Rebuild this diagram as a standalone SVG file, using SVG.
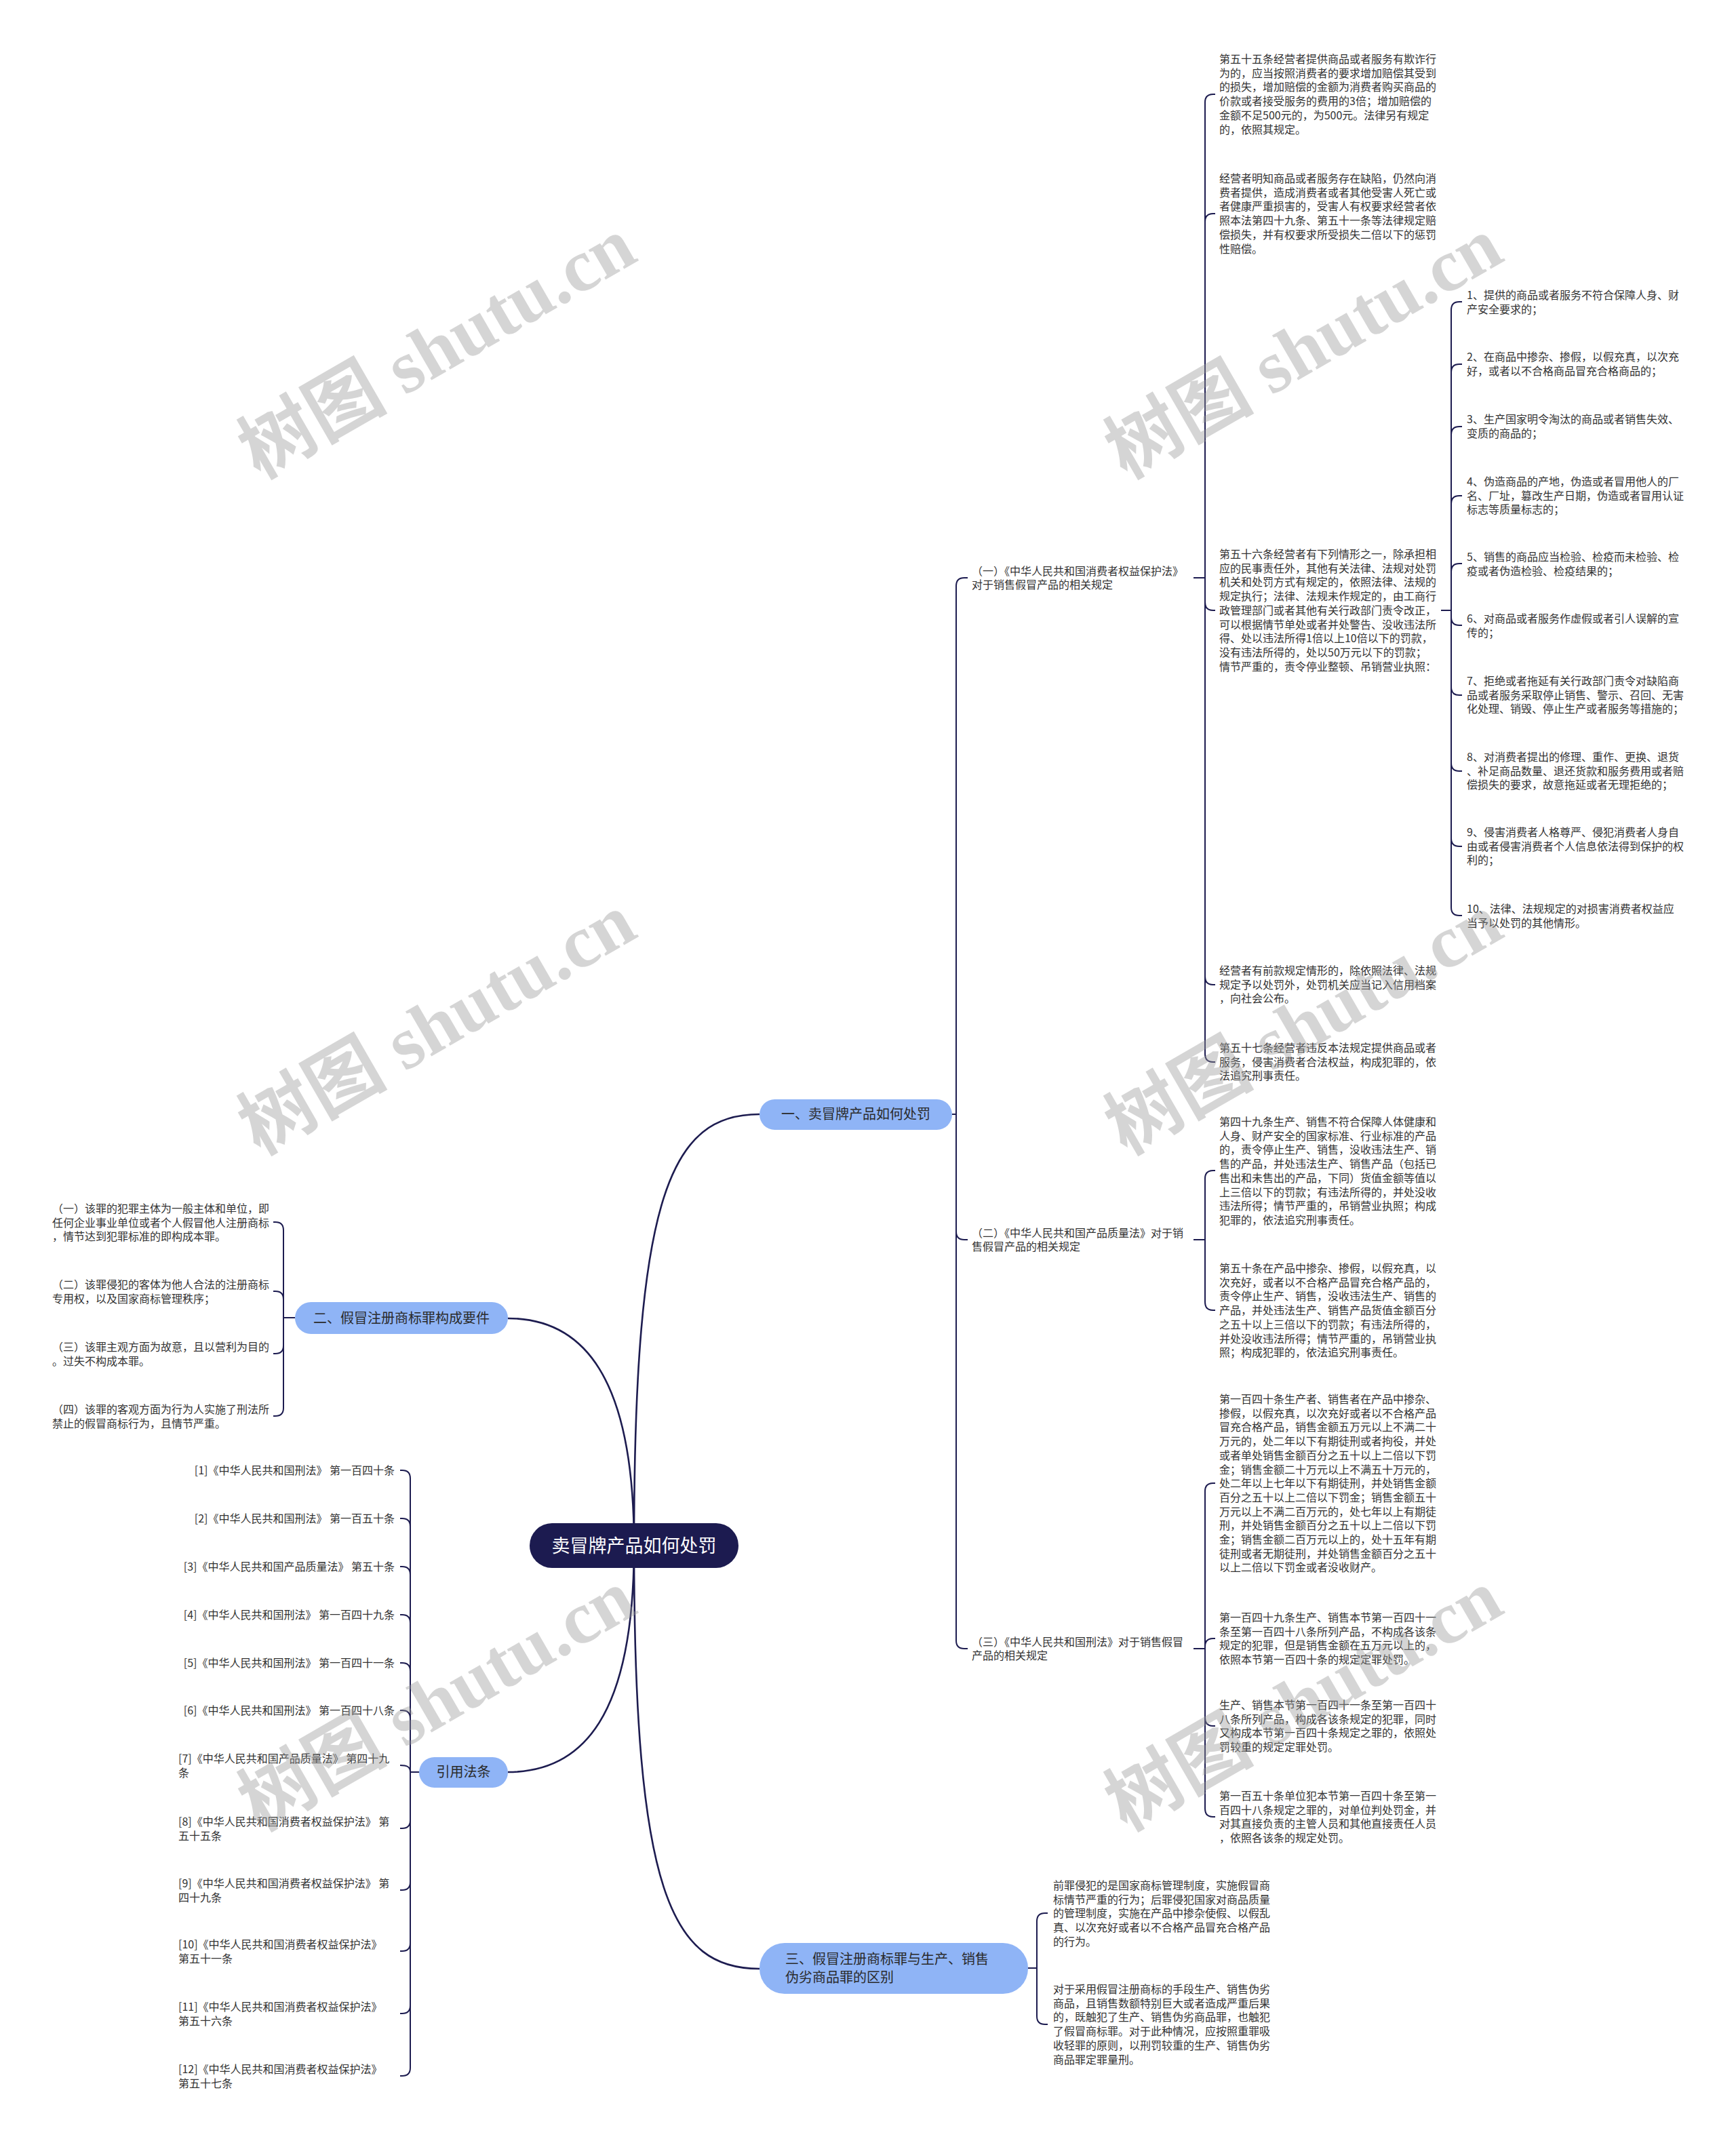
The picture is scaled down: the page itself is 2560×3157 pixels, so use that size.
<svg xmlns="http://www.w3.org/2000/svg" width="2560" height="3157" viewBox="0 0 2560 3157">
<style>
.t{font-family:"Noto Sans CJK SC","Liberation Sans",sans-serif;font-size:16px;fill:#333}
.bt{font-family:"Noto Sans CJK SC","Liberation Sans",sans-serif;font-size:20px;fill:#2a2a2a}
.rt{font-family:"Noto Sans CJK SC","Liberation Sans",sans-serif;font-size:27px;fill:#fff}
.br{fill:#8fb4f6}
.c{fill:none;stroke:#1d1c50;stroke-width:2}
.m{stroke-width:2.6}
.wm{font-family:"Liberation Serif","Noto Sans CJK SC",serif;font-size:110px;font-weight:bold;fill:#999;opacity:0.4}
</style>
<rect width="2560" height="3157" fill="#fff"/>
<g id="connectors">
<path class="c m" d="M935,2279 C935,1760 990,1643 1120,1643"/>
<path class="c m" d="M935,2279 C935,2790 990,2903 1120,2903"/>
<path class="c m" d="M749,1944 C860,1944 935,2030 935,2279"/>
<path class="c m" d="M749,2613 C860,2613 935,2530 935,2279"/>
<path class="c" d="M1404,1643 H1410"/>
<path class="c" d="M1410,1643 V864 Q1410,852 1422,852 H1427"/>
<path class="c" d="M1410,1643 V1816 Q1410,1828 1422,1828 H1427"/>
<path class="c" d="M1410,1643 V2419 Q1410,2431 1422,2431 H1427"/>
<path class="c" d="M1760,852 H1777"/>
<path class="c" d="M1777,852 V151 Q1777,139 1789,139 H1792"/>
<path class="c" d="M1777,852 V327 Q1777,315 1789,315 H1792"/>
<path class="c" d="M1777,852 V888 Q1777,900 1789,900 H1792"/>
<path class="c" d="M1777,852 V1440 Q1777,1452 1789,1452 H1792"/>
<path class="c" d="M1777,852 V1554 Q1777,1566 1789,1566 H1792"/>
<path class="c" d="M2125,900 H2140"/>
<path class="c" d="M2140,900 V457 Q2140,445 2152,445 H2156"/>
<path class="c" d="M2140,900 V549 Q2140,537 2152,537 H2156"/>
<path class="c" d="M2140,900 V641 Q2140,629 2152,629 H2156"/>
<path class="c" d="M2140,900 V743 Q2140,731 2152,731 H2156"/>
<path class="c" d="M2140,900 V843 Q2140,831 2152,831 H2156"/>
<path class="c" d="M2140,900 V910 Q2140,922 2152,922 H2156"/>
<path class="c" d="M2140,900 V1013 Q2140,1025 2152,1025 H2156"/>
<path class="c" d="M2140,900 V1125 Q2140,1137 2152,1137 H2156"/>
<path class="c" d="M2140,900 V1236 Q2140,1248 2152,1248 H2156"/>
<path class="c" d="M2140,900 V1338 Q2140,1350 2152,1350 H2156"/>
<path class="c" d="M1760,1828 H1777"/>
<path class="c" d="M1777,1828 V1738 Q1777,1726 1789,1726 H1792"/>
<path class="c" d="M1777,1828 V1920 Q1777,1932 1789,1932 H1792"/>
<path class="c" d="M1760,2431 H1777"/>
<path class="c" d="M1777,2431 V2199 Q1777,2187 1789,2187 H1792"/>
<path class="c" d="M1777,2431 V2428 Q1777,2416 1789,2416 H1792"/>
<path class="c" d="M1777,2431 V2533 Q1777,2545 1789,2545 H1792"/>
<path class="c" d="M1777,2431 V2667 Q1777,2679 1789,2679 H1792"/>
<path class="c" d="M435,1943 H418"/>
<path class="c" d="M418,1943 V1814 Q418,1802 406,1802 H403"/>
<path class="c" d="M418,1943 V1916 Q418,1904 406,1904 H403"/>
<path class="c" d="M418,1943 V1984 Q418,1996 406,1996 H403"/>
<path class="c" d="M418,1943 V2076 Q418,2088 406,2088 H403"/>
<path class="c" d="M618,2613 H605"/>
<path class="c" d="M605,2613 V2180 Q605,2168 593,2168 H590"/>
<path class="c" d="M605,2613 V2251 Q605,2239 593,2239 H590"/>
<path class="c" d="M605,2613 V2322 Q605,2310 593,2310 H590"/>
<path class="c" d="M605,2613 V2393 Q605,2381 593,2381 H590"/>
<path class="c" d="M605,2613 V2464 Q605,2452 593,2452 H590"/>
<path class="c" d="M605,2613 V2534 Q605,2522 593,2522 H590"/>
<path class="c" d="M605,2613 C605,2605 600,2603 590,2603"/>
<path class="c" d="M605,2613 V2684 Q605,2696 593,2696 H590"/>
<path class="c" d="M605,2613 V2775 Q605,2787 593,2787 H590"/>
<path class="c" d="M605,2613 V2865 Q605,2877 593,2877 H590"/>
<path class="c" d="M605,2613 V2957 Q605,2969 593,2969 H590"/>
<path class="c" d="M605,2613 V3049 Q605,3061 593,3061 H590"/>
<path class="c" d="M1516,2902 H1529"/>
<path class="c" d="M1529,2902 V2833 Q1529,2821 1541,2821 H1545"/>
<path class="c" d="M1529,2902 V2973 Q1529,2985 1541,2985 H1545"/>
</g>
<g id="root"><rect x="781" y="2246" width="308" height="66" rx="33" fill="#1c1b50"/><text class="rt" x="935" y="2289" text-anchor="middle">卖冒牌产品如何处罚</text></g>
<g id="b1"><rect class="br" x="1120" y="1621" width="284" height="45" rx="22.5"/><text class="bt" x="1262" y="1650" text-anchor="middle">一、卖冒牌产品如何处罚</text></g>
<g id="b2"><rect class="br" x="435" y="1920" width="314" height="47" rx="23.5"/><text class="bt" x="592" y="1951" text-anchor="middle">二、假冒注册商标罪构成要件</text></g>
<g id="b4"><rect class="br" x="618" y="2591" width="131" height="45" rx="22.5"/><text class="bt" x="683.5" y="2620" text-anchor="middle">引用法条</text></g>
<g id="b3"><rect class="br" x="1120" y="2865" width="396" height="75" rx="37"/><text class="bt" x="1158" y="2896">三、假冒注册商标罪与生产、销售<tspan x="1158" dy="27">伪劣商品罪的区别</tspan></text></g>
<g id="n1a"><text class="t" x="1433" y="848">（一）《中华人民共和国消费者权益保护法》<tspan x="1433" dy="20">对于销售假冒产品的相关规定</tspan></text></g>
<g id="n1b"><text class="t" x="1433" y="1824">（二）《中华人民共和国产品质量法》对于销<tspan x="1433" dy="20">售假冒产品的相关规定</tspan></text></g>
<g id="n1c"><text class="t" x="1433" y="2427">（三）《中华人民共和国刑法》对于销售假冒<tspan x="1433" dy="20">产品的相关规定</tspan></text></g>
<g id="a55"><text class="t" x="1798" y="93">第五十五条经营者提供商品或者服务有欺诈行<tspan x="1798" dy="20.7">为的，应当按照消费者的要求增加赔偿其受到</tspan><tspan x="1798" dy="20.7">的损失，增加赔偿的金额为消费者购买商品的</tspan><tspan x="1798" dy="20.7">价款或者接受服务的费用的3倍；增加赔偿的</tspan><tspan x="1798" dy="20.7">金额不足500元的，为500元。法律另有规定</tspan><tspan x="1798" dy="20.7">的，依照其规定。</tspan></text></g>
<g id="aq"><text class="t" x="1798" y="269">经营者明知商品或者服务存在缺陷，仍然向消<tspan x="1798" dy="20.7">费者提供，造成消费者或者其他受害人死亡或</tspan><tspan x="1798" dy="20.7">者健康严重损害的，受害人有权要求经营者依</tspan><tspan x="1798" dy="20.7">照本法第四十九条、第五十一条等法律规定赔</tspan><tspan x="1798" dy="20.7">偿损失，并有权要求所受损失二倍以下的惩罚</tspan><tspan x="1798" dy="20.7">性赔偿。</tspan></text></g>
<g id="a56"><text class="t" x="1798" y="823">第五十六条经营者有下列情形之一，除承担相<tspan x="1798" dy="20.7">应的民事责任外，其他有关法律、法规对处罚</tspan><tspan x="1798" dy="20.7">机关和处罚方式有规定的，依照法律、法规的</tspan><tspan x="1798" dy="20.7">规定执行；法律、法规未作规定的，由工商行</tspan><tspan x="1798" dy="20.7">政管理部门或者其他有关行政部门责令改正，</tspan><tspan x="1798" dy="20.7">可以根据情节单处或者并处警告、没收违法所</tspan><tspan x="1798" dy="20.7">得、处以违法所得1倍以上10倍以下的罚款，</tspan><tspan x="1798" dy="20.7">没有违法所得的，处以50万元以下的罚款；</tspan><tspan x="1798" dy="20.7">情节严重的，责令停业整顿、吊销营业执照：</tspan></text></g>
<g id="aqk"><text class="t" x="1798" y="1437">经营者有前款规定情形的，除依照法律、法规<tspan x="1798" dy="20.7">规定予以处罚外，处罚机关应当记入信用档案</tspan><tspan x="1798" dy="20.7">，向社会公布。</tspan></text></g>
<g id="a57"><text class="t" x="1798" y="1551">第五十七条经营者违反本法规定提供商品或者<tspan x="1798" dy="20.7">服务，侵害消费者合法权益，构成犯罪的，依</tspan><tspan x="1798" dy="20.7">法追究刑事责任。</tspan></text></g>
<g id="i1"><text class="t" x="2163" y="441">1、提供的商品或者服务不符合保障人身、财<tspan x="2163" dy="20.7">产安全要求的；</tspan></text></g>
<g id="i2"><text class="t" x="2163" y="532">2、在商品中掺杂、掺假，以假充真，以次充<tspan x="2163" dy="20.7">好，或者以不合格商品冒充合格商品的；</tspan></text></g>
<g id="i3"><text class="t" x="2163" y="624">3、生产国家明令淘汰的商品或者销售失效、<tspan x="2163" dy="20.7">变质的商品的；</tspan></text></g>
<g id="i4"><text class="t" x="2163" y="716">4、伪造商品的产地，伪造或者冒用他人的厂<tspan x="2163" dy="20.7">名、厂址，篡改生产日期，伪造或者冒用认证</tspan><tspan x="2163" dy="20.7">标志等质量标志的；</tspan></text></g>
<g id="i5"><text class="t" x="2163" y="827">5、销售的商品应当检验、检疫而未检验、检<tspan x="2163" dy="20.7">疫或者伪造检验、检疫结果的；</tspan></text></g>
<g id="i6"><text class="t" x="2163" y="918">6、对商品或者服务作虚假或者引人误解的宣<tspan x="2163" dy="20.7">传的；</tspan></text></g>
<g id="i7"><text class="t" x="2163" y="1010">7、拒绝或者拖延有关行政部门责令对缺陷商<tspan x="2163" dy="20.7">品或者服务采取停止销售、警示、召回、无害</tspan><tspan x="2163" dy="20.7">化处理、销毁、停止生产或者服务等措施的；</tspan></text></g>
<g id="i8"><text class="t" x="2163" y="1122">8、对消费者提出的修理、重作、更换、退货<tspan x="2163" dy="20.7">、补足商品数量、退还货款和服务费用或者赔</tspan><tspan x="2163" dy="20.7">偿损失的要求，故意拖延或者无理拒绝的；</tspan></text></g>
<g id="i9"><text class="t" x="2163" y="1233">9、侵害消费者人格尊严、侵犯消费者人身自<tspan x="2163" dy="20.7">由或者侵害消费者个人信息依法得到保护的权</tspan><tspan x="2163" dy="20.7">利的；</tspan></text></g>
<g id="i10"><text class="t" x="2163" y="1346">10、法律、法规规定的对损害消费者权益应<tspan x="2163" dy="20.7">当予以处罚的其他情形。</tspan></text></g>
<g id="p49"><text class="t" x="1798" y="1660">第四十九条生产、销售不符合保障人体健康和<tspan x="1798" dy="20.7">人身、财产安全的国家标准、行业标准的产品</tspan><tspan x="1798" dy="20.7">的，责令停止生产、销售，没收违法生产、销</tspan><tspan x="1798" dy="20.7">售的产品，并处违法生产、销售产品（包括已</tspan><tspan x="1798" dy="20.7">售出和未售出的产品，下同）货值金额等值以</tspan><tspan x="1798" dy="20.7">上三倍以下的罚款；有违法所得的，并处没收</tspan><tspan x="1798" dy="20.7">违法所得；情节严重的，吊销营业执照；构成</tspan><tspan x="1798" dy="20.7">犯罪的，依法追究刑事责任。</tspan></text></g>
<g id="p50"><text class="t" x="1798" y="1876">第五十条在产品中掺杂、掺假，以假充真，以<tspan x="1798" dy="20.7">次充好，或者以不合格产品冒充合格产品的，</tspan><tspan x="1798" dy="20.7">责令停止生产、销售，没收违法生产、销售的</tspan><tspan x="1798" dy="20.7">产品，并处违法生产、销售产品货值金额百分</tspan><tspan x="1798" dy="20.7">之五十以上三倍以下的罚款；有违法所得的，</tspan><tspan x="1798" dy="20.7">并处没收违法所得；情节严重的，吊销营业执</tspan><tspan x="1798" dy="20.7">照；构成犯罪的，依法追究刑事责任。</tspan></text></g>
<g id="x140"><text class="t" x="1798" y="2069">第一百四十条生产者、销售者在产品中掺杂、<tspan x="1798" dy="20.7">掺假，以假充真，以次充好或者以不合格产品</tspan><tspan x="1798" dy="20.7">冒充合格产品，销售金额五万元以上不满二十</tspan><tspan x="1798" dy="20.7">万元的，处二年以下有期徒刑或者拘役，并处</tspan><tspan x="1798" dy="20.7">或者单处销售金额百分之五十以上二倍以下罚</tspan><tspan x="1798" dy="20.7">金；销售金额二十万元以上不满五十万元的，</tspan><tspan x="1798" dy="20.7">处二年以上七年以下有期徒刑，并处销售金额</tspan><tspan x="1798" dy="20.7">百分之五十以上二倍以下罚金；销售金额五十</tspan><tspan x="1798" dy="20.7">万元以上不满二百万元的，处七年以上有期徒</tspan><tspan x="1798" dy="20.7">刑，并处销售金额百分之五十以上二倍以下罚</tspan><tspan x="1798" dy="20.7">金；销售金额二百万元以上的，处十五年有期</tspan><tspan x="1798" dy="20.7">徒刑或者无期徒刑，并处销售金额百分之五十</tspan><tspan x="1798" dy="20.7">以上二倍以下罚金或者没收财产。</tspan></text></g>
<g id="x149"><text class="t" x="1798" y="2391">第一百四十九条生产、销售本节第一百四十一<tspan x="1798" dy="20.7">条至第一百四十八条所列产品，不构成各该条</tspan><tspan x="1798" dy="20.7">规定的犯罪，但是销售金额在五万元以上的，</tspan><tspan x="1798" dy="20.7">依照本节第一百四十条的规定定罪处罚。</tspan></text></g>
<g id="xsc"><text class="t" x="1798" y="2520">生产、销售本节第一百四十一条至第一百四十<tspan x="1798" dy="20.7">八条所列产品，构成各该条规定的犯罪，同时</tspan><tspan x="1798" dy="20.7">又构成本节第一百四十条规定之罪的，依照处</tspan><tspan x="1798" dy="20.7">罚较重的规定定罪处罚。</tspan></text></g>
<g id="x150"><text class="t" x="1798" y="2654">第一百五十条单位犯本节第一百四十条至第一<tspan x="1798" dy="20.7">百四十八条规定之罪的，对单位判处罚金，并</tspan><tspan x="1798" dy="20.7">对其直接负责的主管人员和其他直接责任人员</tspan><tspan x="1798" dy="20.7">，依照各该条的规定处罚。</tspan></text></g>
<g id="k1"><text class="t" x="77" y="1788">（一）该罪的犯罪主体为一般主体和单位，即<tspan x="77" dy="20.7">任何企业事业单位或者个人假冒他人注册商标</tspan><tspan x="77" dy="20.7">，情节达到犯罪标准的即构成本罪。</tspan></text></g>
<g id="k2"><text class="t" x="77" y="1900">（二）该罪侵犯的客体为他人合法的注册商标<tspan x="77" dy="20.7">专用权，以及国家商标管理秩序；</tspan></text></g>
<g id="k3"><text class="t" x="77" y="1992">（三）该罪主观方面为故意，且以营利为目的<tspan x="77" dy="20.7">。过失不构成本罪。</tspan></text></g>
<g id="k4"><text class="t" x="77" y="2084">（四）该罪的客观方面为行为人实施了刑法所<tspan x="77" dy="20.7">禁止的假冒商标行为，且情节严重。</tspan></text></g>
<g id="r1"><text class="t" x="582" y="2174" text-anchor="end">[1]《中华人民共和国刑法》 第一百四十条</text></g>
<g id="r2"><text class="t" x="582" y="2245" text-anchor="end">[2]《中华人民共和国刑法》 第一百五十条</text></g>
<g id="r3"><text class="t" x="582" y="2316" text-anchor="end">[3]《中华人民共和国产品质量法》 第五十条</text></g>
<g id="r4"><text class="t" x="582" y="2387" text-anchor="end">[4]《中华人民共和国刑法》 第一百四十九条</text></g>
<g id="r5"><text class="t" x="582" y="2458" text-anchor="end">[5]《中华人民共和国刑法》 第一百四十一条</text></g>
<g id="r6"><text class="t" x="582" y="2528" text-anchor="end">[6]《中华人民共和国刑法》 第一百四十八条</text></g>
<g id="r7"><text class="t" x="263" y="2599">[7]《中华人民共和国产品质量法》 第四十九<tspan x="263" dy="20.7">条</tspan></text></g>
<g id="r8"><text class="t" x="263" y="2692">[8]《中华人民共和国消费者权益保护法》 第<tspan x="263" dy="20.7">五十五条</tspan></text></g>
<g id="r9"><text class="t" x="263" y="2783">[9]《中华人民共和国消费者权益保护法》 第<tspan x="263" dy="20.7">四十九条</tspan></text></g>
<g id="r10"><text class="t" x="263" y="2873">[10]《中华人民共和国消费者权益保护法》<tspan x="263" dy="20.7">第五十一条</tspan></text></g>
<g id="r11"><text class="t" x="263" y="2965">[11]《中华人民共和国消费者权益保护法》<tspan x="263" dy="20.7">第五十六条</tspan></text></g>
<g id="r12"><text class="t" x="263" y="3057">[12]《中华人民共和国消费者权益保护法》<tspan x="263" dy="20.7">第五十七条</tspan></text></g>
<g id="d1"><text class="t" x="1553" y="2786">前罪侵犯的是国家商标管理制度，实施假冒商<tspan x="1553" dy="20.7">标情节严重的行为；后罪侵犯国家对商品质量</tspan><tspan x="1553" dy="20.7">的管理制度，实施在产品中掺杂使假、以假乱</tspan><tspan x="1553" dy="20.7">真、以次充好或者以不合格产品冒充合格产品</tspan><tspan x="1553" dy="20.7">的行为。</tspan></text></g>
<g id="d2"><text class="t" x="1553" y="2939">对于采用假冒注册商标的手段生产、销售伪劣<tspan x="1553" dy="20.7">商品，且销售数额特别巨大或者造成严重后果</tspan><tspan x="1553" dy="20.7">的，既触犯了生产、销售伪劣商品罪，也触犯</tspan><tspan x="1553" dy="20.7">了假冒商标罪。对于此种情况，应按照重罪吸</tspan><tspan x="1553" dy="20.7">收轻罪的原则，以刑罚较重的生产、销售伪劣</tspan><tspan x="1553" dy="20.7">商品罪定罪量刑。</tspan></text></g>
<g id="watermarks">
<text class="wm" x="645" y="550" text-anchor="middle" transform="rotate(-30 645 514)">树图 shutu.cn</text>
<text class="wm" x="1923" y="550" text-anchor="middle" transform="rotate(-30 1923 514)">树图 shutu.cn</text>
<text class="wm" x="645" y="1547" text-anchor="middle" transform="rotate(-30 645 1511)">树图 shutu.cn</text>
<text class="wm" x="1923" y="1547" text-anchor="middle" transform="rotate(-30 1923 1511)">树图 shutu.cn</text>
<text class="wm" x="645" y="2544" text-anchor="middle" transform="rotate(-30 645 2508)">树图 shutu.cn</text>
<text class="wm" x="1923" y="2544" text-anchor="middle" transform="rotate(-30 1923 2508)">树图 shutu.cn</text>
</g>
</svg>
